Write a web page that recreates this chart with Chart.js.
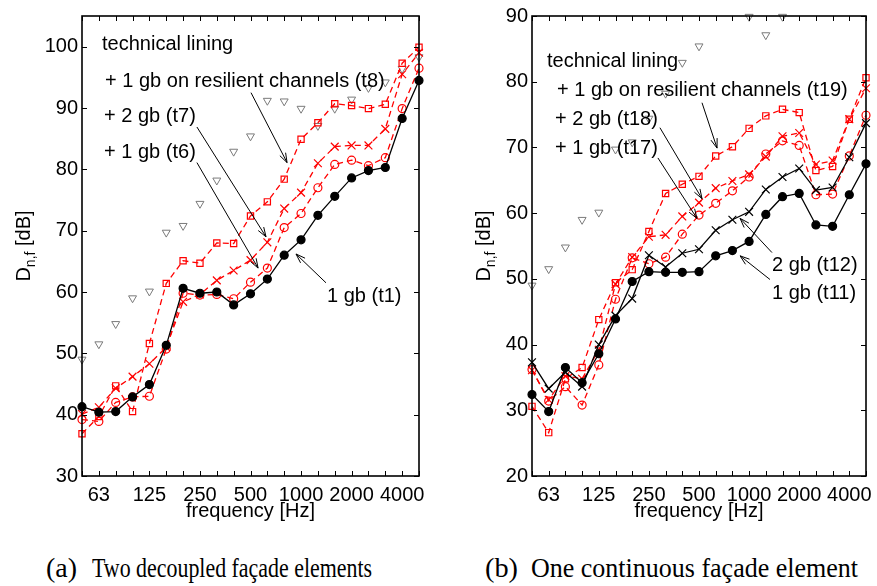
<!DOCTYPE html>
<html>
<head>
<meta charset="utf-8">
<script src="https://cdn.jsdelivr.net/npm/chart.js@4.4.1/dist/chart.umd.min.js"></script>
<style>
  body { margin: 0; background: #fff; width: 877px; height: 586px; position: relative; overflow: hidden; }
  .panel { position: absolute; top: 0; height: 530px; }
  #panelA { left: 0; width: 440px; }
  #panelB { left: 440px; width: 437px; }
  .cap { position: absolute; top: 555px; font-family: "Liberation Serif", serif; font-size: 27px; line-height: 27px;
         white-space: pre; transform-origin: left top; color: #000; }
</style>
</head>
<body>
<div class="panel" id="panelA"><canvas id="chartA"></canvas></div>
<div class="panel" id="panelB"><canvas id="chartB"></canvas></div>
<span class="cap" data-w="31" style="left:46px">(a)</span>
<span class="cap" data-w="280" style="left:92px">Two decoupled façade elements</span>
<span class="cap" data-w="33" style="left:485px">(b)</span>
<span class="cap" data-w="327" style="left:531px">One continuous façade element</span>
<script>
// third-octave band centre frequencies, one x index each
const bands = ['50', '63', '80', '100', '125', '160', '200', '250', '315', '400', '500',
  '630', '800', '1000', '1250', '1600', '2000', '2500', '3150', '4000', '5000'];
const labelledBands = ['63', '125', '250', '500', '1000', '2000', '4000'];

// technical lining alone (same in both panels)
const techLining = [49.0, 51.5, 54.8, 59.0, 60.1, 69.7, 70.8, 74.4, 78.2, 82.9, 85.4,
  91.2, 91.1, 89.9, 87.1, 89.9, 91.4, 93.3, 94.2, 96.4, 98.3];

// (a) two decoupled facade elements
const t1 = [41.3, 40.4, 40.5, 42.9, 44.9, 51.3, 60.6, 59.8, 60.0, 57.9, 59.7,
  62.1, 66.0, 68.5, 72.5, 75.6, 78.6, 79.8, 80.3, 88.3, 94.5];
const t6 = [39.2, 38.9, 42.0, 42.9, 43.0, 50.7, 59.8, 59.5, 59.6, 58.9, 61.6,
  63.9, 70.5, 72.8, 77.0, 80.8, 81.5, 80.6, 81.9, 89.9, 96.5];
const t7 = [40.1, 41.2, 44.3, 46.2, 48.3, 51.0, 58.4, 59.6, 61.9, 63.5, 65.2,
  68.1, 73.6, 76.2, 81.0, 83.7, 83.9, 83.9, 86.6, 95.5, 99.0];
const t8 = [36.9, 39.7, 44.7, 40.5, 51.6, 61.4, 65.1, 64.7, 68.0, 67.9, 72.4,
  74.7, 78.4, 84.9, 87.6, 90.7, 90.4, 89.9, 90.6, 97.3, 99.9];

// (b) one continuous facade element
const t11 = [32.4, 29.8, 36.5, 34.2, 38.6, 43.9, 49.6, 51.1, 51.0, 51.0, 51.1,
  53.5, 54.3, 55.7, 59.8, 62.5, 63.0, 58.2, 58.0, 62.8, 67.5];
const t12 = [37.3, 33.3, 35.8, 33.6, 40.0, 44.4, 47.0, 53.6, 51.8, 53.9, 54.5,
  57.4, 59.0, 60.2, 63.6, 65.5, 66.8, 63.5, 63.9, 68.5, 73.7];
const t17 = [36.2, 31.4, 33.6, 30.8, 36.9, 46.9, 53.2, 52.3, 53.3, 56.8, 59.7,
  61.5, 63.4, 65.5, 69.0, 71.0, 70.3, 62.8, 62.9, 68.7, 74.9];
const t18 = [36.1, 31.6, 35.2, 34.8, 39.2, 49.2, 53.3, 56.4, 56.7, 59.5, 61.6,
  63.8, 64.9, 65.9, 68.6, 71.7, 72.2, 67.4, 68.0, 74.3, 79.0];
const t19 = [30.6, 26.6, 34.8, 36.5, 43.8, 49.4, 51.4, 57.2, 63.0, 64.4, 65.6,
  68.7, 70.1, 72.9, 74.8, 75.8, 75.3, 66.5, 67.1, 74.3, 80.6];

const FONT = '"Liberation Sans", Arial, sans-serif';
const RED = '#ff0000';

const toPoints = (values) => values.map((v, i) => ({ x: i, y: v }));

// line + marker styles, MATLAB-like
const styles = {
  filled: { borderColor: '#000', pointStyle: 'circle', pointRadius: 4, pointBackgroundColor: '#000', borderDash: [] },
  cross: { borderColor: '#000', pointStyle: 'crossRot', pointRadius: 5.5, pointBackgroundColor: '#000', borderDash: [] },
  circle: { borderColor: RED, pointStyle: 'circle', pointRadius: 4, pointBackgroundColor: 'rgba(0,0,0,0)', borderDash: [6, 4] },
  redCross: { borderColor: RED, pointStyle: 'crossRot', pointRadius: 5.5, pointBackgroundColor: RED, borderDash: [6, 4] },
  square: { borderColor: RED, pointStyle: 'rect', pointRadius: 4.4, pointBackgroundColor: 'rgba(0,0,0,0)', borderDash: [6, 4] },
};

function series(label, values, style) {
  const s = styles[style];
  return {
    label,
    data: toPoints(values),
    clip: false,
    borderColor: s.borderColor,
    borderWidth: 1.3,
    borderDash: s.borderDash,
    pointStyle: s.pointStyle,
    pointRadius: s.pointRadius,
    pointBorderColor: s.borderColor,
    pointBackgroundColor: s.pointBackgroundColor,
    pointBorderWidth: 1.2,
    tension: 0,
  };
}

function liningSeries() {
  return {
    label: 'technical lining',
    data: toPoints(techLining),
    clip: false,
    showLine: false,
    pointStyle: 'triangle',
    rotation: 180,
    pointRadius: 4.6,
    pointBorderColor: '#7a7a7a',
    pointBackgroundColor: 'rgba(0,0,0,0)',
    pointBorderWidth: 1,
  };
}

// box frame with inward ticks, like the original plots
const framePlugin = {
  id: 'frame',
  afterDatasetsDraw(chart) {
    const { ctx, chartArea: a, scales } = chart;
    ctx.save();
    ctx.strokeStyle = '#000';
    ctx.lineWidth = 1;
    ctx.beginPath();
    bands.forEach((b, i) => {
      const px = Math.round(scales.x.getPixelForValue(i)) + 0.5;
      ctx.moveTo(px, a.bottom); ctx.lineTo(px, a.bottom - 5);
      ctx.moveTo(px, a.top); ctx.lineTo(px, a.top + 5);
    });
    scales.y.ticks.forEach((t) => {
      const py = Math.round(scales.y.getPixelForValue(t.value)) + 0.5;
      ctx.moveTo(a.left, py); ctx.lineTo(a.left + 5, py);
      ctx.moveTo(a.right, py); ctx.lineTo(a.right - 5, py);
    });
    ctx.stroke();
    ctx.lineWidth = 1.6;
    ctx.strokeRect(a.left, a.top, a.right - a.left, a.bottom - a.top);
    ctx.restore();
  },
};

// y title with subscript: D_{n,f} [dB]
const yTitlePlugin = {
  id: 'yTitle',
  afterDraw(chart, args, opts) {
    const { ctx, chartArea: a } = chart;
    const main = '20px ' + FONT;
    const sub = '14px ' + FONT;
    ctx.save();
    ctx.font = main;
    const wD = ctx.measureText('D').width;
    const wU = ctx.measureText(' [dB]').width;
    ctx.font = sub;
    const wS = ctx.measureText('n,f').width;
    ctx.translate(opts.x, (a.top + a.bottom) / 2);
    ctx.rotate(-Math.PI / 2);
    ctx.fillStyle = '#000';
    ctx.textBaseline = 'alphabetic';
    let x = -(wD + wS + wU) / 2;
    ctx.font = main; ctx.fillText('D', x, 0); x += wD;
    ctx.font = sub; ctx.fillText('n,f', x, 5); x += wS;
    ctx.font = main; ctx.fillText(' [dB]', x, 0);
    ctx.restore();
  },
};

function drawArrow(ctx, x1, y1, x2, y2) {
  const ang = Math.atan2(y2 - y1, x2 - x1);
  const len = 10, spread = 0.33;
  ctx.beginPath();
  ctx.moveTo(x1, y1); ctx.lineTo(x2, y2);
  ctx.stroke();
  ctx.beginPath();
  ctx.moveTo(x2 - len * Math.cos(ang - spread), y2 - len * Math.sin(ang - spread));
  ctx.lineTo(x2, y2);
  ctx.lineTo(x2 - len * Math.cos(ang + spread), y2 - len * Math.sin(ang + spread));
  ctx.stroke();
}

// text labels and arrows, given in data coordinates
const notesPlugin = {
  id: 'notes',
  afterDraw(chart, args, opts) {
    const { ctx, scales: { x, y } } = chart;
    ctx.save();
    ctx.font = '20px ' + FONT;
    ctx.fillStyle = '#000';
    ctx.textAlign = 'left';
    ctx.textBaseline = 'middle';
    opts.texts.forEach((t) => ctx.fillText(t.text, x.getPixelForValue(t.x), y.getPixelForValue(t.y)));
    ctx.strokeStyle = '#000';
    ctx.lineWidth = 1;
    opts.arrows.forEach(([ax, ay, bx, by]) => {
      drawArrow(ctx, x.getPixelForValue(ax), y.getPixelForValue(ay), x.getPixelForValue(bx), y.getPixelForValue(by));
    });
    ctx.restore();
  },
};

function makeChart(id, cfg) {
  return new Chart(document.getElementById(id), {
    type: 'line',
    data: { datasets: cfg.datasets },
    plugins: [framePlugin, yTitlePlugin, notesPlugin],
    options: {
      responsive: true,
      maintainAspectRatio: false,
      animation: false,
      layout: { padding: { top: 15, right: cfg.padRight, bottom: 0, left: 0 } },
      plugins: {
        legend: { display: false },
        tooltip: { enabled: false },
        yTitle: { x: cfg.titleX },
        notes: { texts: cfg.texts, arrows: cfg.arrows },
      },
      scales: {
        x: {
          type: 'linear',
          min: 0,
          max: bands.length - 1,
          afterBuildTicks: (s) => { s.ticks = bands.map((b, i) => ({ value: i })); },
          afterFit: (s) => { s.height = 54; },
          grid: { display: false, drawTicks: false },
          border: { display: false },
          ticks: {
            autoSkip: false,
            maxRotation: 0,
            padding: 7,
            color: '#000',
            font: { family: FONT, size: 20 },
            callback: (v) => (labelledBands.includes(bands[v]) ? bands[v] : ''),
          },
          title: {
            display: true,
            text: 'frequency [Hz]',
            color: '#000',
            font: { family: FONT, size: 20 },
            padding: { top: 0, bottom: 7 },
          },
        },
        y: {
          min: cfg.yMin,
          max: cfg.yMax,
          afterFit: (s) => { s.width = cfg.axisWidth; },
          grid: { display: false, drawTicks: false },
          border: { display: false },
          ticks: {
            stepSize: 10,
            includeBounds: false,
            padding: 4,
            color: '#000',
            font: { family: FONT, size: 20 },
          },
        },
      },
    },
  });
}

makeChart('chartA', {
  datasets: [
    series('1 gb (t1)', t1, 'filled'),
    series('+ 1 gb (t6)', t6, 'circle'),
    series('+ 2 gb (t7)', t7, 'redCross'),
    series('+ 1 gb on resilient channels (t8)', t8, 'square'),
    liningSeries(),
  ],
  yMin: 30,
  yMax: 105,
  axisWidth: 82,
  padRight: 21,
  titleX: 30,
  texts: [
    { x: 1.19, y: 100.3, text: 'technical lining' },
    { x: 1.37, y: 94.3, text: '+ 1 gb on resilient channels (t8)' },
    { x: 1.31, y: 88.6, text: '+ 2 gb (t7)' },
    { x: 1.31, y: 82.7, text: '+ 1 gb (t6)' },
    { x: 14.54, y: 59.2, text: '1 gb (t1)' },
  ],
  arrows: [
    [10.03, 92.5, 12.17, 81.1],
    [6.82, 86.9, 10.92, 69.0],
    [6.82, 81.1, 10.45, 63.9],
    [14.48, 61.5, 12.70, 66.2],
  ],
});

makeChart('chartB', {
  datasets: [
    series('1 gb (t11)', t11, 'filled'),
    series('2 gb (t12)', t12, 'cross'),
    series('+ 1 gb (t17)', t17, 'circle'),
    series('+ 2 gb (t18)', t18, 'redCross'),
    series('+ 1 gb on resilient channels (t19)', t19, 'square'),
    liningSeries(),
  ],
  yMin: 20,
  yMax: 90,
  axisWidth: 92,
  padRight: 11,
  titleX: 50,
  texts: [
    { x: 0.90, y: 83.1, text: 'technical lining' },
    { x: 1.50, y: 78.6, text: '+ 1 gb on resilient channels (t19)' },
    { x: 1.38, y: 74.3, text: '+ 2 gb (t18)' },
    { x: 1.38, y: 69.8, text: '+ 1 gb (t17)' },
    { x: 14.37, y: 52.0, text: '2 gb (t12)' },
    { x: 14.37, y: 47.8, text: '1 gb (t11)' },
  ],
  arrows: [
    [10.18, 76.8, 11.08, 69.9],
    [7.66, 73.0, 10.18, 62.2],
    [7.54, 68.4, 9.88, 59.2],
    [14.37, 54.0, 12.46, 59.2],
    [14.25, 49.9, 12.46, 53.5],
  ],
});

// squeeze the serif captions to the width they take in the figure
document.querySelectorAll('.cap').forEach((el) => {
  const w = el.getBoundingClientRect().width;
  el.style.transform = 'scaleX(' + (Number(el.dataset.w) / w) + ')';
});
</script>
</body>
</html>
